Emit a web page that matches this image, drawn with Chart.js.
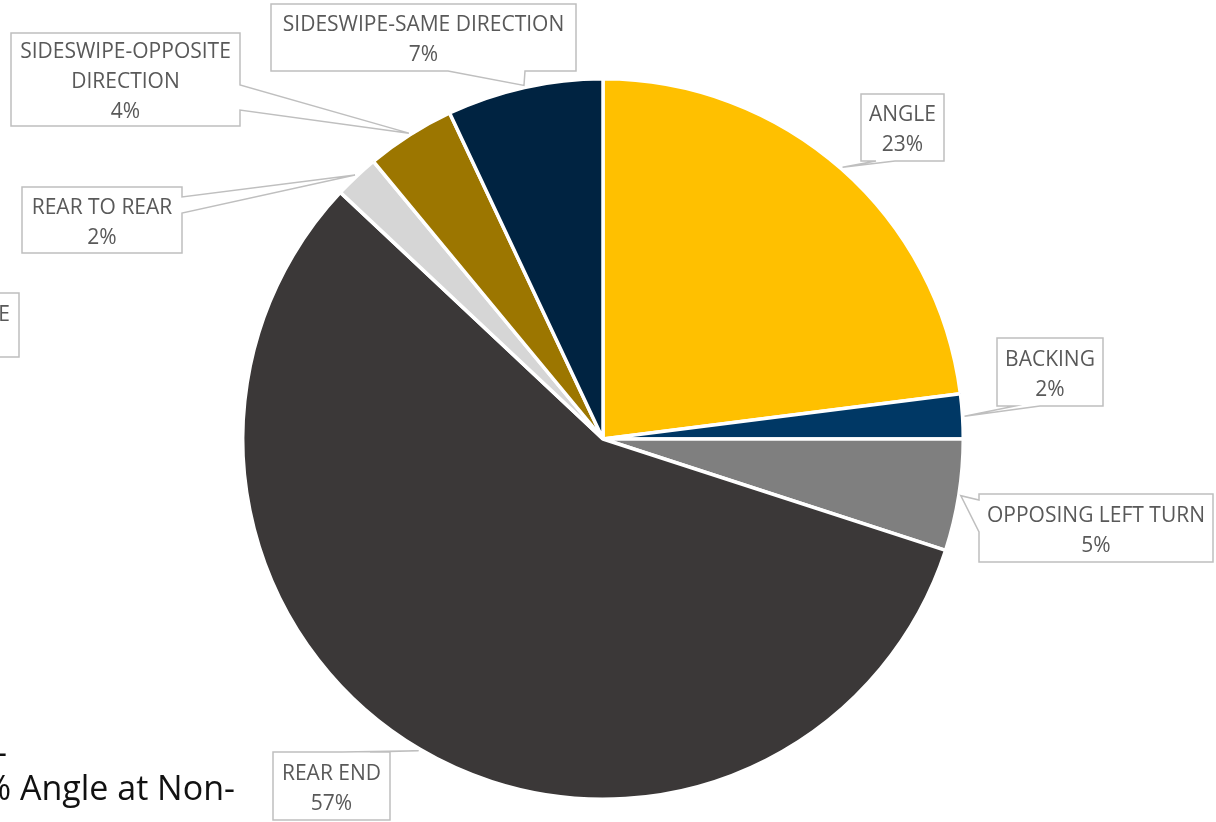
<!DOCTYPE html>
<html>
<head>
<meta charset="utf-8">
<script src="https://cdn.jsdelivr.net/npm/chart.js@4/dist/chart.umd.min.js"></script>
<style>
  html, body { margin: 0; padding: 0; background: #fff; overflow: hidden; }
  #wrap { position: relative; width: 1216px; height: 822px; }
  canvas { display: block; }
</style>
</head>
<body>
<div id="wrap"><canvas id="crashTypes" width="1216" height="822"></canvas></div>
<script>
// crash type shares (percent)
const crashTypes = [
  "ANGLE",
  "BACKING",
  "OPPOSING LEFT TURN",
  "REAR END",
  "REAR TO REAR",
  "SIDESWIPE-OPPOSITE DIRECTION",
  "SIDESWIPE-SAME DIRECTION",
];
const crashShares = [23, 2, 5, 57, 2, 4, 7];
const sliceColors = ["#FFC000", "#003865", "#7F7F7F", "#3B3838", "#D6D6D6", "#9C7600", "#002341"];

// callout box placement, one per slice (x, y, w, h, side the pointer leaves from, pointer base a..b)
const callouts = [
  { x: 861, y: 94, w: 83, h: 67, side: "bottom", a: 876, b: 895 },
  { x: 997, y: 338, w: 106, h: 68, side: "bottom", a: 1015, b: 1040 },
  { x: 979, y: 494, w: 234, h: 68, side: "left", a: 500, b: 532 },
  { x: 273, y: 752, w: 117, h: 68, side: "top", a: 342, b: 370 },
  { x: 22, y: 187, w: 160, h: 66, side: "right", a: 197, b: 213 },
  { x: 11, y: 33, w: 229, h: 93, side: "right", a: 85, b: 110 },
  { x: 271, y: 4, w: 305, h: 67, side: "bottom", a: 448, b: 525 },
];

const LABEL_FONT = '21px "Open Sans", sans-serif';
const LABEL_COLOR = "#595959";
const BOX_STROKE = "#BFBFBF";

function wrapWords(ctx, text, maxWidth) {
  const words = text.split(" ");
  const lines = [];
  let line = "";
  for (const w of words) {
    const test = line ? line + " " + w : w;
    if (line && ctx.measureText(test).width > maxWidth) {
      lines.push(line);
      line = w;
    } else {
      line = test;
    }
  }
  if (line) lines.push(line);
  return lines;
}

function calloutPath(ctx, box, tip) {
  const { x, y, w, h, side, a, b } = box;
  ctx.beginPath();
  ctx.moveTo(x, y);
  if (side === "top") { ctx.lineTo(a, y); ctx.lineTo(tip.x, tip.y); ctx.lineTo(b, y); }
  ctx.lineTo(x + w, y);
  if (side === "right") { ctx.lineTo(x + w, a); ctx.lineTo(tip.x, tip.y); ctx.lineTo(x + w, b); }
  ctx.lineTo(x + w, y + h);
  if (side === "bottom") { ctx.lineTo(b, y + h); ctx.lineTo(tip.x, tip.y); ctx.lineTo(a, y + h); }
  ctx.lineTo(x, y + h);
  if (side === "left") { ctx.lineTo(x, b); ctx.lineTo(tip.x, tip.y); ctx.lineTo(x, a); }
  ctx.closePath();
}

const calloutLabels = {
  id: "calloutLabels",
  afterDatasetsDraw(chart) {
    const ctx = chart.ctx;
    const meta = chart.getDatasetMeta(0);
    const total = crashShares.reduce((s, v) => s + v, 0);
    ctx.save();
    ctx.font = LABEL_FONT;
    meta.data.forEach((arc, i) => {
      const box = callouts[i];
      if (!box) return;
      const mid = (arc.startAngle + arc.endAngle) / 2;
      const r = arc.outerRadius + 2;
      const tip = { x: arc.x + Math.cos(mid) * r, y: arc.y + Math.sin(mid) * r };

      calloutPath(ctx, box, tip);
      ctx.fillStyle = "#fff";
      ctx.fill();
      ctx.lineWidth = 1.5;
      ctx.strokeStyle = BOX_STROKE;
      ctx.stroke();

      const lines = wrapWords(ctx, crashTypes[i], box.w - 12);
      lines.push(Math.round(crashShares[i] / total * 100) + "%");
      const lh = 30;
      const cy = box.y + box.h / 2 + 3;
      const top = cy - (lines.length - 1) * lh / 2;
      ctx.fillStyle = LABEL_COLOR;
      ctx.textAlign = "center";
      ctx.textBaseline = "middle";
      lines.forEach((t, k) => ctx.fillText(t, box.x + box.w / 2, top + k * lh));
    });

    // edge of the neighbouring callout and report text cut off on the left
    ctx.beginPath();
    ctx.rect(-60, 293, 79, 64);
    ctx.fillStyle = "#fff";
    ctx.fill();
    ctx.strokeStyle = BOX_STROKE;
    ctx.lineWidth = 1.5;
    ctx.stroke();
    ctx.fillStyle = LABEL_COLOR;
    ctx.textAlign = "right";
    ctx.textBaseline = "middle";
    ctx.fillText("E", 10, 315);

    ctx.fillStyle = "#111";
    ctx.textAlign = "left";
    ctx.textBaseline = "alphabetic";
    ctx.font = '34px "Open Sans", sans-serif';
    ctx.fillText("–", -10, 764);
    ctx.fillText("% Angle at Non-", -17, 800);
    ctx.restore();
  },
};

new Chart(document.getElementById("crashTypes"), {
  type: "pie",
  data: {
    labels: crashTypes,
    datasets: [{
      data: crashShares,
      backgroundColor: sliceColors,
      borderColor: "#ffffff",
      borderWidth: 3.5,
    }],
  },
  options: {
    responsive: false,
    animation: false,
    layout: { padding: { left: 241, right: 251, top: 77, bottom: 21 } },
    plugins: {
      legend: { display: false },
      tooltip: { enabled: false },
    },
  },
  plugins: [calloutLabels],
});
</script>
</body>
</html>
